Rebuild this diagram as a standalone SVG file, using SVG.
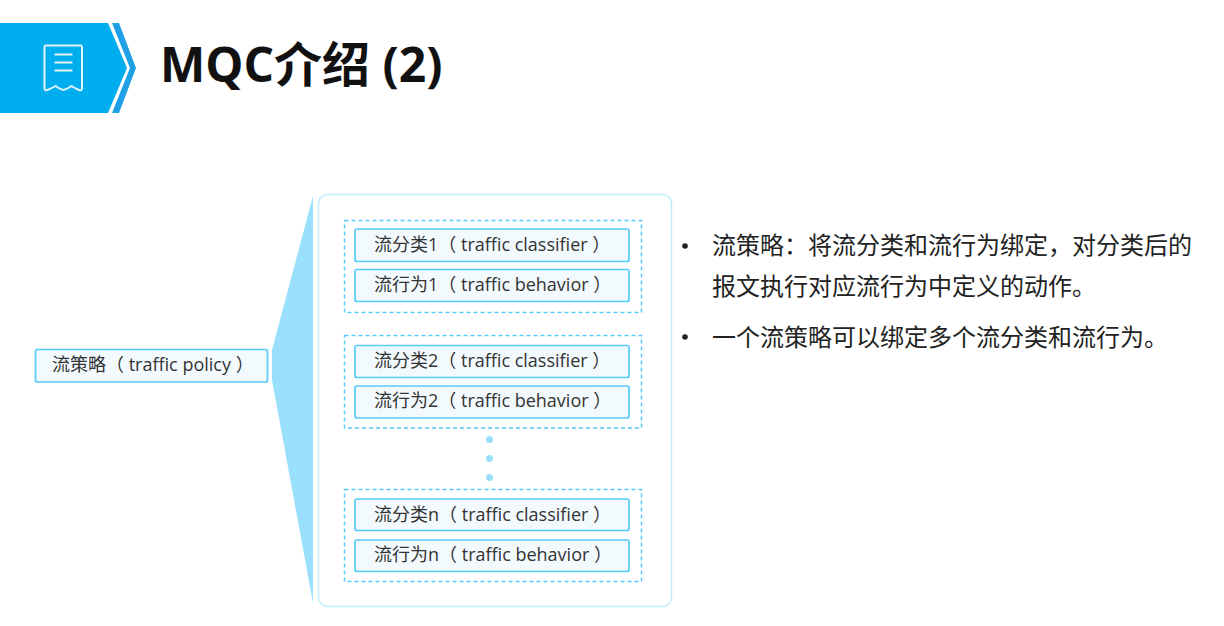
<svg xmlns="http://www.w3.org/2000/svg" width="1224" height="626" viewBox="0 0 1224 626">
<style>
text{font-family:"Open Sans","Noto Sans CJK SC",sans-serif;fill:#333;font-size:18px}
.box{fill:#f3fafe;stroke:#55ccfa;stroke-width:1.7}
.group{fill:#fff;stroke:#55ccfa;stroke-width:1.5;stroke-dasharray:4 3}
.dot{fill:#9adffb}
.body{font-size:24px;fill:#222}
</style>
<rect width="1224" height="626" fill="#fff"/>
<g id="header">
<polygon points="0,23 108,23 127,68 108,113 0,113" fill="#00aef0"/>
<polygon points="112,23 119,23 136,68 119,113 112,113 130,68" fill="#1f9fe6"/>
<path d="M44.500 47Q44.500 45.500 46 45.500H80.500Q82 45.500 82 47V88.500Q82 91 79 90Q74.500 88 71.500 86Q67.500 89 63.500 90Q59.500 89 55.500 86Q52 88 47.500 90Q44.500 91 44.500 88.500Z" fill="none" stroke="#dff5fe" stroke-width="2"/>
<path d="M54.500 54.500H72.500M54.500 62.500H72.500M54.500 70.500H72.500" fill="none" stroke="#dff5fe" stroke-width="2"/>
<text x="160" y="82" style="font-size:48px;font-weight:700;fill:#111">MQC介绍 (2)</text>
</g>
<g id="brace"><polygon points="313,196 272,350 272,380 313,603" fill="#9adffb"/></g>
<g id="panel"><rect x="318.500" y="194.500" width="353" height="412" rx="9" fill="#fff" stroke="#c4edfc" stroke-width="1.500"/></g>
<g id="policy"><rect class="box" x="35.500" y="349.500" width="232" height="32.500" rx="2"/><text x="52" y="371">流策略（ traffic policy ）</text></g>
<g id="group1"><rect class="group" x="344.500" y="220.500" width="297" height="92"/>
<g id="classifier1"><rect class="box" x="355" y="229" width="274" height="32.500" rx="2"/><text x="374" y="250.500">流分类1（ traffic classifier ）</text></g>
<g id="behavior1"><rect class="box" x="355" y="269.500" width="274" height="32" rx="2"/><text x="374" y="290.500">流行为1（ traffic behavior ）</text></g></g>
<g id="group2"><rect class="group" x="344.500" y="335.500" width="297" height="92.500"/>
<g id="classifier2"><rect class="box" x="355" y="345.500" width="274" height="32" rx="2"/><text x="374" y="366.500">流分类2（ traffic classifier ）</text></g>
<g id="behavior2"><rect class="box" x="355" y="386" width="274" height="32" rx="2"/><text x="374" y="406.500">流行为2（ traffic behavior ）</text></g></g>
<g id="dots"><circle class="dot" cx="489.500" cy="439.500" r="3.500"/><circle class="dot" cx="489.500" cy="458.500" r="3.500"/><circle class="dot" cx="489.500" cy="477.500" r="3.500"/></g>
<g id="groupn"><rect class="group" x="344.500" y="489.500" width="297" height="92"/>
<g id="classifiern"><rect class="box" x="355" y="499" width="274" height="31.500" rx="2"/><text x="374" y="520.500">流分类n（ traffic classifier ）</text></g>
<g id="behaviorn"><rect class="box" x="355" y="540" width="274" height="31.500" rx="2"/><text x="374" y="560.500">流行为n（ traffic behavior ）</text></g></g>
<g id="notes">
<circle cx="685" cy="246" r="2.800" fill="#222"/>
<text class="body" x="712" y="254">流策略：将流分类和流行为绑定，对分类后的</text>
<text class="body" x="712" y="295">报文执行对应流行为中定义的动作。</text>
<circle cx="685" cy="337" r="2.800" fill="#222"/>
<text class="body" x="712" y="346">一个流策略可以绑定多个流分类和流行为。</text>
</g>
</svg>
